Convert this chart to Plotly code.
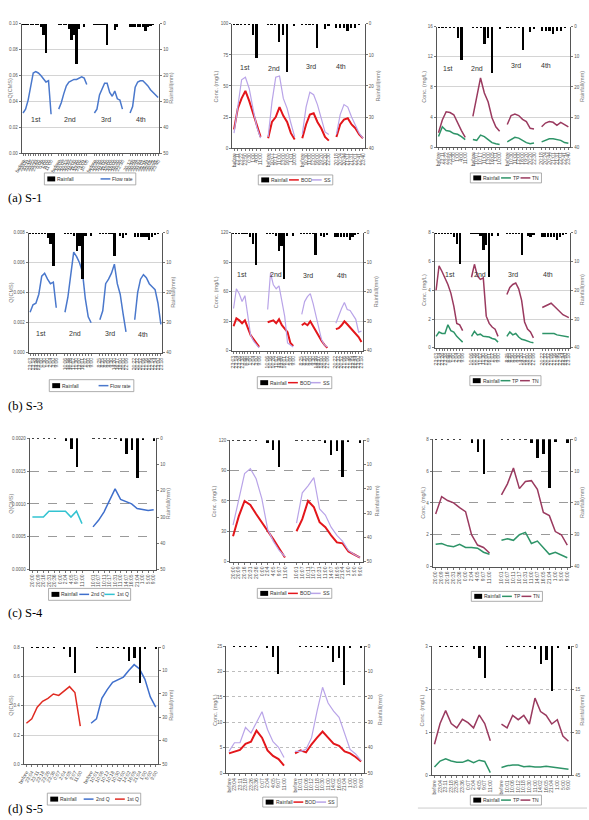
import plotly.graph_objects as go

W, H = 589, 820

# ======================= DATA =======================
# ---- S-1 (row a) ----
s1q_labels = [
    ["before", "23:05", "23:11", "23:17", "23:22", "23:33", "23:50", "0:06", "0:30", "1:00", "4:00", "11:00"],
    ["before", "10:02", "10:07", "10:12", "10:17", "10:27", "11:00", "11:30", "13:00", "16:05", "1:01", "10:00"],
    ["before", "10:20", "10:30", "10:40", "11:00", "11:30", "12:00", "14:00", "16:00", "19:20", "20:20", "22:30"],
    ["20:12", "20:18", "20:24", "20:30", "20:44", "21:01", "21:16", "21:31", "22:01", "22:21", "22:41", "23:40"],
]
s1_flow = [
    [0.031, 0.034, 0.041, 0.053, 0.062, 0.063, 0.062, 0.060, 0.057, 0.055, 0.056, 0.030],
    [0.034, 0.039, 0.046, 0.052, 0.055, 0.056, 0.057, 0.057, 0.058, 0.059, 0.058, 0.053],
    [0.031, 0.034, 0.045, 0.049, 0.054, 0.054, 0.047, 0.044, 0.048, 0.042, 0.041, 0.034],
    [0.031, 0.036, 0.051, 0.055, 0.056, 0.056, 0.054, 0.052, 0.049, 0.047, 0.045, 0.043],
]
s1q_rain = [
    [0.3, 0.3, 0.3, 0.3, 0.3, 0.3, 0.3, 1.2, 4.4, 11.4, 0, 0],
    [0.3, 0.3, 0.3, 0.3, 1.8, 6.3, 4.4, 15.6, 1.8, 0, 1.2, 0],
    [0.3, 0.3, 0.3, 0.3, 0.3, 8.0, 0, 0, 2.5, 1.0, 0, 0],
    [1.2, 1.2, 1.2, 1.2, 1.2, 1.2, 2.8, 1.2, 0.5, 0.3, 0, 0],
]
s1_labels = [
    ["before", "23:11", "23:22", "23:50", "0:30", "1:00", "4:00", "11:00"],
    ["before", "10:07", "10:17", "11:00", "13:00", "16:05", "1:01", "10:00"],
    ["before", "10:30", "11:00", "12:00", "16:00", "19:20", "20:20", "22:30"],
    ["20:18", "20:24", "20:44", "21:01", "21:31", "22:01", "22:41", "23:40"],
]
s1_rain = [
    [0.3, 0.3, 0.3, 0.3, 0.3, 3.6, 10.9, 0],
    [0.3, 0.3, 0.3, 5.8, 3.6, 15.4, 0, 0.6],
    [0.3, 0.3, 0.3, 0.3, 7.7, 0, 1.5, 0.6],
    [1.3, 1.3, 1.3, 2.4, 1.3, 1.3, 0.3, 0],
]
s1_bod = [[15, 32, 40, 46, 38, 28, 18, 9], [8, 21, 25, 33, 26, 21, 12, 7],
          [8, 19, 27, 28, 21, 16, 9, 6], [9, 19, 23, 24, 19, 16, 11, 8]]
s1_ss = [[12, 35, 55, 57, 48, 32, 17, 8], [9, 37, 57, 58, 40, 32, 20, 9],
         [11, 33, 45, 43, 35, 25, 13, 11], [11, 27, 35, 33, 25, 19, 12, 8]]
s1_tp = [[1.4, 2.7, 2.2, 2.1, 1.8, 1.7, 1.4, 1.0], [1.0, 0.9, 1.6, 1.4, 1.0, 0.6, 0.45, 0.35],
         [0.7, 1.0, 1.3, 1.2, 0.9, 0.6, 0.45, 0.55], [0.7, 0.9, 1.1, 1.1, 1.05, 0.9, 0.6, 0.5]]
s1_tn = [[1.9, 3.6, 4.7, 4.6, 4.3, 3.2, 2.2, 1.3], [4.1, 6.5, 9.2, 7.2, 6.0, 3.9, 2.7, 2.1],
         [3.0, 4.2, 4.4, 4.2, 3.7, 3.4, 2.5, 2.4], [2.7, 3.2, 3.4, 3.3, 2.9, 3.3, 3.0, 2.7]]

# ---- S-3 (row b) ----
s3_labels = [
    ["23:03", "23:14", "23:26", "23:38", "0:00", "0:30", "1:00", "2:04", "3:00", "9:06"],
    ["10:06", "10:16", "10:26", "11:02", "11:30", "13:00", "16:01", "1:02", "5:00", "9:00"],
    ["8:25", "8:35", "8:50", "9:00", "9:30", "14:20", "16:37", "18:00", "20:00", "22:06"],
    ["20:22", "20:32", "20:52", "21:06", "21:16", "21:46", "22:14", "22:34", "23:00", "23:18"],
]
s3_flow = [
    [0.0027, 0.0032, 0.0033, 0.0039, 0.0051, 0.0053, 0.0049, 0.0046, 0.0047, 0.0030],
    [0.0027, 0.0037, 0.0052, 0.0067, 0.0064, 0.0060, 0.0054, 0.0036, 0.0024, 0.0020],
    [0.0022, 0.0028, 0.0046, 0.0049, 0.0053, 0.0059, 0.0046, 0.0039, 0.0026, 0.0014],
    [0.0022, 0.0040, 0.0049, 0.0052, 0.0050, 0.0046, 0.0044, 0.0042, 0.0033, 0.0019],
]
s3_rain = [
    [0.3, 0.3, 0.3, 0.3, 0.3, 0.3, 1.5, 3.8, 10.9, 0],
    [0.3, 0.3, 0.3, 1.0, 6.0, 4.3, 15.4, 1.0, 0, 1.0],
    [0.3, 0.3, 0.3, 0.3, 0.3, 7.6, 0, 1.0, 1.5, 0.8],
    [1.3, 1.3, 1.3, 1.3, 1.3, 2.4, 1.3, 0.5, 0.3, 0],
]
s3_bod = [[25, 33, 31, 28, 31, 24, 16, 12, 8, 4], [29, 30, 31, 28, 32, 26, 23, 19, 8, 5],
          [26, 28, 26, 30, 25, 20, 14, 10, 6, 3], [22, 23, 26, 30, 27, 24, 21, 18, 14, 9]]
s3_ss = [[43, 63, 58, 50, 56, 38, 16, 10, 6, 3], [42, 79, 67, 63, 66, 52, 35, 8, 6, 4],
         [37, 50, 55, 58, 48, 35, 21, 11, 6, 4], [28, 36, 43, 49, 42, 41, 37, 32, 19, 20]]
s3_tp = [[0.8, 1.1, 1.0, 1.0, 1.6, 1.2, 1.1, 0.8, 0.6, 0.4],
         [0.8, 1.15, 0.9, 0.95, 0.8, 0.8, 0.75, 0.65, 0.6, 0.4],
         [0.8, 1.1, 0.9, 1.0, 0.75, 0.6, 0.55, 0.45, 0.4, 0.35],
         [1.0, 1.0, 1.05, 1.05, 1.0, 0.9, 0.85, 0.8, 0.75, 0.75]]
s3_tn = [[4.0, 5.7, 5.3, 4.9, 4.4, 3.8, 2.9, 1.7, 1.6, 1.2],
         [4.9, 5.8, 5.0, 4.75, 4.85, 2.2, 1.7, 1.45, 1.3, 0.8],
         [3.7, 4.2, 4.4, 4.5, 4.1, 3.3, 1.8, 1.3, 1.1, 0.7],
         [2.8, 2.9, 2.95, 3.1, 2.9, 2.7, 2.45, 2.3, 2.2, 2.1]]

# ---- S-4 (row c) ----
s4_labels = [
    ["20:00", "20:09", "20:16", "20:31", "20:36", "0:00", "2:04", "4:05", "9:07", "11:00"],
    ["10:01", "10:07", "10:11", "10:17", "10:31", "11:00", "14:07", "16:05", "21:04", "1:00", "5:00", "9:00"],
]
s4_q1st = [0.00080, 0.00080, 0.00080, 0.00089, 0.00089, 0.00089, 0.00089, 0.00080, 0.00089, 0.00070]
s4_q2nd = [0.00065, 0.00075, 0.00088, 0.00105, 0.00123, 0.00107, 0.00104, 0.00100, 0.00093, 0.00091, 0.00090, 0.00091]
s4_rain = [
    [0.2, 0.2, 0.2, 0.2, 0.2, 0, 1.3, 4.0, 11.0, 0],
    [0.2, 0.2, 0.2, 0.2, 0.2, 1.3, 6.0, 4.7, 15.4, 0.9, 0, 1.3],
]
s4_bod = [[25, 45, 60, 56, 47, 39, 31, 22, 13, 4], [30, 42, 60, 54, 39, 34, 26, 19, 18, 10, 7, 4]]
s4_ss = [[36, 62, 87, 92, 82, 62, 32, 20, 11, 5], [38, 68, 75, 83, 52, 46, 34, 26, 20, 11, 7, 4]]
s4_tp = [[1.4, 1.45, 1.3, 1.25, 1.4, 1.2, 1.2, 1.15, 0.9, 0.77],
         [1.65, 1.75, 1.65, 2.0, 2.15, 1.45, 1.6, 1.15, 0.77, 0.9, 0.7, 0.55]]
s4_tn = [[3.3, 4.4, 4.15, 4.0, 3.7, 3.45, 2.0, 1.35, 1.2, 0.85],
         [4.5, 5.2, 6.2, 4.9, 5.35, 5.4, 4.85, 3.4, 3.2, 2.2, 2.0, 1.35]]

# ---- S-5 (row d) ----
s5_labels = [
    ["before", "23:04", "23:11", "23:18", "23:26", "23:36", "0:07", "2:04", "4:05", "9:07", "11:00"],
    ["before", "10:01", "10:06", "10:12", "10:18", "10:30", "11:00", "14:02", "16:05", "21:04", "1:00", "5:00", "9:00"],
]
s5_q1st = [0.28, 0.31, 0.39, 0.43, 0.45, 0.48, 0.47, 0.50, 0.53, 0.49, 0.26]
s5_q2nd = [0.28, 0.31, 0.45, 0.51, 0.56, 0.58, 0.595, 0.64, 0.68, 0.65, 0.58, 0.46, 0.39]
s5_rain = [
    [0, 0.2, 0.2, 0.2, 0.2, 0.2, 0, 0.9, 4.2, 11.0, 0],
    [0, 0.2, 0.2, 0.2, 0.2, 0.2, 0.9, 6.1, 4.8, 15.5, 0.5, 0, 0.9],
]
s5_bod = [[3.9, 4.3, 4.6, 5.8, 6.2, 8.4, 7.0, 4.5, 3.4, 2.8, 1.5],
          [3.9, 4.5, 4.1, 5.7, 7.0, 8.2, 7.0, 5.8, 5.4, 4.3, 3.9, 3.2, 2.3]]
s5_ss = [[4.3, 6.0, 6.0, 9.0, 7.9, 9.9, 12.1, 8.6, 6.2, 5.1, 3.1],
         [4.3, 4.3, 4.7, 7.0, 12.2, 16.9, 13.8, 12.2, 11.0, 8.0, 4.7, 3.8, 2.5]]
s5_tp = [[0.19, 0.33, 0.38, 0.33, 0.3, 0.3, 0.35, 0.29, 0.35, 0.32, 0.06],
         [0.18, 0.22, 0.24, 0.24, 0.2, 0.21, 0.19, 0.19, 0.21, 0.19, 0.18, 0.16, 0.14]]
s5_tn = [[0.72, 1.2, 1.5, 1.2, 1.1, 1.3, 1.22, 1.1, 1.4, 1.2, 0.8],
         [1.19, 1.1, 1.39, 1.29, 1.39, 1.19, 1.79, 1.48, 1.39, 1.19, 1.29, 0.91, 0.79]]

event_names = ["1st", "2nd", "3rd", "4th"]
captions = ["(a) S-1", "(b) S-3", "(c) S-4", "(d) S-5"]

# ======================= STYLE =======================
C_FLOW = "#4A78CC"
C_BOD = "#E3161B"
C_SS = "#B9A4E8"
C_TP = "#2E9468"
C_TN = "#9A3A5F"
C_Q2 = "#3F6FCC"
C_Q1C = "#33C3D1"
C_Q1D = "#E02B22"
FONT = "Liberation Sans"


def blank(ev):
    return [None] * len(ev)


def join(events, gap, fill=None):
    out = []
    for k, ev in enumerate(events):
        if k:
            out += [fill] * gap
        out += list(ev)
    return out


panels = [
    # ---------- row a ----------
    dict(box=(14, 154, 22, 152), labels=s1q_labels, gap=2, rain=s1q_rain, rmax=50, rdt=10,
         ymax=0.10, ydt=0.02, yfmt=".2f", series=[("Flow rate", s1_flow, C_FLOW, 1.5)],
         tickangle=-60, grid="solid", ltitle="Q(CMS)", ldx=-11, rdx=12, barw=0.7,
         ev=[(5.0, 0.026), (18.5, 0.026), (32.7, 0.026), (46.2, 0.026)], legend=(37, 130, 172, 184)),
    dict(box=(228, 363, 22, 147), labels=s1_labels, gap=1, rain=s1_rain, rmax=40, rdt=10,
         ymax=100, ydt=25, yfmt="", series=[("BOD", s1_bod, C_BOD, 2), ("SS", s1_ss, C_SS, 1.2)],
         tickangle=-90, grid="solid", ltitle="Conc. (mg/L)", ldx=-16, rdx=13, barw=0.45,
         ev=[(2.7, 65), (10.5, 64), (20.2, 66), (28.2, 66)], legend=(262, 323, 174, 184)),
    dict(box=(436, 572, 25, 146), labels=s1_labels, gap=1, rain=s1_rain, rmax=40, rdt=10,
         ymax=16, ydt=4, yfmt="", series=[("TP", s1_tp, C_TP, 1.5), ("TN", s1_tn, C_TN, 1.5)],
         tickangle=-90, grid="solid", ltitle="Conc. (mg/L)", ldx=-13, rdx=12, barw=0.45,
         ev=[(2.3, 10.5), (10.2, 10.5), (20.2, 10.8), (28.1, 10.8)], legend=(477, 536, 172, 182)),
    # ---------- row b ----------
    dict(box=(21, 157, 232, 353), labels=s3_labels, gap=2, rain=s3_rain, rmax=40, rdt=10,
         ymax=0.008, ydt=0.002, yfmt=".3f", series=[("Flow rate", s3_flow, C_FLOW, 1.5)],
         tickangle=-90, grid="solid", ltitle="Q(CMS)", ldx=-18, rdx=11, barw=0.6,
         ev=[(3.5, 0.0013), (15.5, 0.0013), (27.6, 0.0013), (38.9, 0.0012)], legend=(42, 128, 380, 392)),
    dict(box=(228, 361, 232, 351), labels=s3_labels, gap=2, rain=s3_rain, rmax=40, rdt=10,
         ymax=120, ydt=30, yfmt="", series=[("BOD", s3_bod, C_BOD, 2), ("SS", s3_ss, C_SS, 1.2)],
         tickangle=-90, grid="solid", ltitle="Conc. (mg/L)", ldx=-17, rdx=13, barw=0.6,
         ev=[(2.8, 77), (15.1, 77), (26.3, 76), (38.1, 76)], legend=(260, 323, 377, 389)),
    dict(box=(434, 572, 232, 348), labels=s3_labels, gap=2, rain=s3_rain, rmax=40, rdt=10,
         ymax=8, ydt=2, yfmt="", series=[("TP", s3_tp, C_TP, 1.5), ("TN", s3_tn, C_TN, 1.5)],
         tickangle=-90, grid="solid", ltitle="Conc. (mg/L)", ldx=-11, rdx=12, barw=0.6,
         ev=[(4.7, 5.1), (15.0, 5.1), (26.0, 5.1), (37.8, 5.1)], legend=(477, 535, 376, 386)),
    # ---------- row c ----------
    dict(box=(22, 151, 439, 571), labels=s4_labels, gap=1, rain=s4_rain, rmax=50, rdt=10,
         ymax=0.0020, ydt=0.0005, yfmt=".4f",
         series=[("2nd Q", [blank(s4_q1st), s4_q2nd], C_Q2, 1.5), ("1st Q", [s4_q1st, blank(s4_q2nd)], C_Q1C, 1.5)],
         tickangle=-90, grid="dash", ltitle="Q(CMS)", ldx=-19, rdx=12, barw=0.42, ev=[],
         legend=(43, 123, 590, 602)),
    dict(box=(226, 361, 441, 563), labels=s4_labels, gap=1, rain=s4_rain, rmax=50, rdt=10,
         ymax=120, ydt=30, yfmt="", series=[("BOD", s4_bod, C_BOD, 2), ("SS", s4_ss, C_SS, 1.2)],
         tickangle=-90, grid="dash", ltitle="Conc. (mg/L)", ldx=-16, rdx=14, barw=0.42, ev=[],
         legend=(260, 323, 590, 600)),
    dict(box=(432, 572, 440, 568), labels=s4_labels, gap=1, rain=s4_rain, rmax=40, rdt=10,
         ymax=8, ydt=2, yfmt="", series=[("TP", s4_tp, C_TP, 1.5), ("TN", s4_tn, C_TN, 1.5)],
         tickangle=-90, grid="dash", ltitle="Conc. (mg/L)", ldx=-10, rdx=12, barw=0.42, ev=[],
         legend=(478, 537, 593, 603)),
    # ---------- row d ----------
    dict(box=(16, 153, 649, 767), labels=s5_labels, gap=1, rain=s5_rain, rmax=50, rdt=10,
         ymax=0.8, ydt=0.2, yfmt=".1f",
         series=[("2nd Q", [blank(s5_q1st), s5_q2nd], C_Q2, 1.5), ("1st Q", [s5_q1st, blank(s5_q2nd)], C_Q1D, 1.5)],
         tickangle=-60, grid="solid", ltitle="Q(CMS)", ldx=-13, rdx=13, barw=0.4, ev=[],
         legend=(40, 135, 796, 808)),
    dict(box=(222, 362, 648, 776), labels=s5_labels, gap=1, rain=s5_rain, rmax=50, rdt=10,
         ymax=25, ydt=5, yfmt="", series=[("BOD", s5_bod, C_BOD, 2), ("SS", s5_ss, C_SS, 1.2)],
         tickangle=-90, grid="dot", ltitle="Conc. (mg/L)", ldx=-12, rdx=16, barw=0.4, ev=[],
         legend=(267, 327, 800, 810)),
    dict(box=(431, 573, 648, 778), labels=s5_labels, gap=1, rain=s5_rain, rmax=45, rdt=15,
         ymax=3, ydt=1, yfmt="", series=[("TP", s5_tp, C_TP, 1.5), ("TN", s5_tn, C_TN, 1.5)],
         tickangle=-90, grid="dot", ltitle="Conc. (mg/L)", ldx=-10, rdx=11, barw=0.4, ev=[],
         legend=(477, 536, 798, 808)),
]

caption_y = [197, 406, 615, 812]

# ======================= BUILD =======================
fig = go.Figure()
layout = dict(width=W, height=H, margin=dict(l=0, r=0, t=0, b=0), paper_bgcolor="white",
              plot_bgcolor="rgba(0,0,0,0)", showlegend=False, bargap=0,
              font=dict(family=FONT, color="#555"))
shapes = []
annotations = []


def px(x):
    return x / W


def py(y):
    return 1 - y / H


def text_w(s, fs):
    w = 0.0
    for ch in s:
        if ch in "ilfjtI.:() ":
            w += 0.28
        elif ch.isupper():
            w += 0.68
        else:
            w += 0.55
    return w * fs


def draw_legend(box, items):
    x0, x1, y0, y1 = box
    fs = 5
    yc = (y0 + y1) / 2
    symw = {"bar": 8, "line": 10}
    widths = [symw[k] + 1.5 + text_w(n, fs) for n, k, c in items]
    pad = 3
    total = sum(widths)
    n = len(items)
    space = max((x1 - x0 - 2 * pad - total) / (n - 1), 1.5)
    need = total + space * (n - 1) + 2 * pad
    if need > x1 - x0:
        c = (x0 + x1) / 2
        x0, x1 = c - need / 2, c + need / 2
    shapes.append(dict(type="rect", xref="paper", yref="paper", x0=px(x0), x1=px(x1), y0=py(y1), y1=py(y0),
                       line=dict(color="#999", width=0.8), fillcolor="white", layer="above"))
    x = x0 + pad
    for (name, kind, color), w in zip(items, widths):
        if kind == "bar":
            shapes.append(dict(type="rect", xref="paper", yref="paper", x0=px(x), x1=px(x + 8),
                               y0=py(yc + 2.5), y1=py(yc - 2.5), fillcolor="black", line=dict(width=0), layer="above"))
        else:
            shapes.append(dict(type="line", xref="paper", yref="paper", x0=px(x), x1=px(x + 10),
                               y0=py(yc), y1=py(yc), line=dict(color=color, width=1.5), layer="above"))
        annotations.append(dict(xref="paper", yref="paper", x=px(x + symw[kind] + 1), y=py(yc), text=name,
                                showarrow=False, xanchor="left", yanchor="middle", borderpad=0,
                                font=dict(size=fs, color="#333", family=FONT)))
        x += w + space


for k, p in enumerate(panels, start=1):
    xa = "x" if k == 1 else f"x{k}"
    nl, nr = 2 * k - 1, 2 * k
    ya = "y" if nl == 1 else f"y{nl}"
    yb = f"y{nr}"
    x0, x1, y0, y1 = p["box"]
    labels = join(p["labels"], p["gap"], "")
    n = len(labels)
    xs = list(range(n))

    fig.add_trace(go.Bar(x=xs, y=join(p["rain"], p["gap"]), xaxis=xa, yaxis=yb, width=p["barw"],
                         marker=dict(color="black", line=dict(width=0)), name="Rainfall", hoverinfo="skip"))
    for name, evs, color, lw in p["series"]:
        fig.add_trace(go.Scatter(x=xs, y=join(evs, p["gap"]), mode="lines", connectgaps=False,
                                 line=dict(color=color, width=lw), xaxis=xa, yaxis=ya, name=name))

    layout["xaxis" if k == 1 else f"xaxis{k}"] = dict(
        domain=[px(x0), px(x1)], anchor=ya, range=[-0.5, n - 0.5], tickmode="array",
        tickvals=[i for i, l in enumerate(labels) if l], ticktext=[l for l in labels if l],
        tickangle=p["tickangle"], tickfont=dict(size=5, color="#555"), showline=True, linecolor="#555",
        linewidth=1, ticks="outside", ticklen=2, tickcolor="#777", showgrid=False, zeroline=False)
    grid_col = {"solid": "#d4d4d4", "dash": "#9a9a9a", "dot": "#bdbdbd"}[p["grid"]]
    layout["yaxis" if nl == 1 else f"yaxis{nl}"] = dict(
        domain=[py(y1), py(y0)], anchor=xa, range=[0, p["ymax"]], dtick=p["ydt"], tick0=0,
        tickformat=p["yfmt"], showgrid=True, gridcolor=grid_col, griddash=p["grid"], gridwidth=0.8,
        showline=True, linecolor="#555", linewidth=1, ticks="outside", ticklen=2, tickcolor="#777",
        tickfont=dict(size=4.5, color="#555"), zeroline=False)
    layout[f"yaxis{nr}"] = dict(
        overlaying=ya, side="right", anchor=xa, range=[p["rmax"], 0], dtick=p["rdt"], tick0=0,
        showgrid=False, showline=True, linecolor="#555", linewidth=1, ticks="outside", ticklen=2,
        tickcolor="#777", tickfont=dict(size=4.5, color="#555"), zeroline=False)

    yc = (y0 + y1) / 2
    annotations.append(dict(xref="paper", yref="paper", x=px(x0 + p["ldx"]), y=py(yc), text=p["ltitle"],
                            textangle=-90, showarrow=False, xanchor="center", yanchor="middle",
                            font=dict(size=5.5, color="#777", family=FONT)))
    annotations.append(dict(xref="paper", yref="paper", x=px(x1 + p["rdx"]), y=py(yc), text="Rainfall(mm)",
                            textangle=-90, showarrow=False, xanchor="center", yanchor="middle",
                            font=dict(size=5.5, color="#777", family=FONT)))
    for name, (ex, ey) in zip(event_names, p["ev"]):
        annotations.append(dict(xref=xa, yref=ya, x=ex, y=ey, text=name, showarrow=False,
                                font=dict(size=7, color="#333", family=FONT)))

    items = [("Rainfall", "bar", "black")] + [(nm, "line", c) for nm, _, c, _ in p["series"]]
    draw_legend(p["legend"], items)

for cap, cy in zip(captions, caption_y):
    annotations.append(dict(xref="paper", yref="paper", x=px(-2), y=py(cy), text=cap, showarrow=False,
                            xanchor="left", yanchor="middle",
                            font=dict(size=12.5, color="black", family="Liberation Serif")))

shapes.append(dict(type="line", xref="paper", yref="paper", x0=px(417), x1=px(589), y0=py(811), y1=py(811),
                   line=dict(color="#cccccc", width=1)))

layout["shapes"] = shapes
layout["annotations"] = annotations
fig.update_layout(**layout)
fig.write_html("out.html")
